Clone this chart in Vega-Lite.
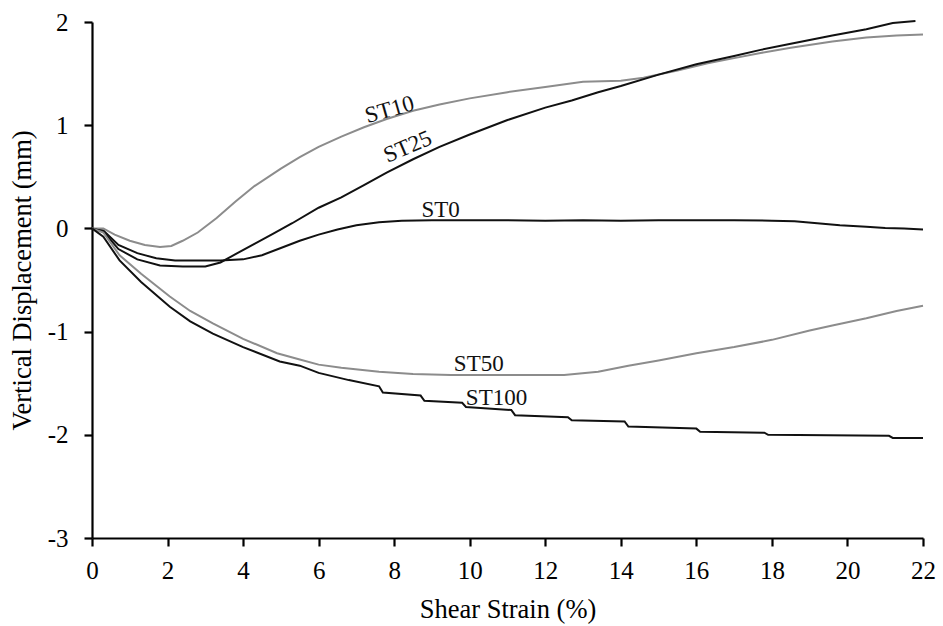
{
  "$schema": "https://vega.github.io/schema/vega-lite/v6.json",
  "autosize": "none",
  "width": 831,
  "height": 516,
  "padding": {"left": 92, "top": 22, "right": 20, "bottom": 88},
  "background": "white",
  "config": {
    "view": {"stroke": null},
    "font": "Liberation Serif",
    "axis": {
      "grid": false,
      "domainColor": "#000",
      "domainWidth": 2.2,
      "tickColor": "#000",
      "tickWidth": 2.2,
      "tickSize": 8
    }
  },
  "datasets": {
    "curves": [
      {"series": "ST0", "strain": 0, "disp": 0},
      {"series": "ST0", "strain": 0.3, "disp": -0.02},
      {"series": "ST0", "strain": 0.7, "disp": -0.16},
      {"series": "ST0", "strain": 1.2, "disp": -0.24},
      {"series": "ST0", "strain": 1.7, "disp": -0.29},
      {"series": "ST0", "strain": 2.2, "disp": -0.31},
      {"series": "ST0", "strain": 2.8, "disp": -0.31},
      {"series": "ST0", "strain": 3.4, "disp": -0.31},
      {"series": "ST0", "strain": 4.0, "disp": -0.3},
      {"series": "ST0", "strain": 4.5, "disp": -0.26},
      {"series": "ST0", "strain": 5.0, "disp": -0.19},
      {"series": "ST0", "strain": 5.5, "disp": -0.12},
      {"series": "ST0", "strain": 6.0, "disp": -0.06},
      {"series": "ST0", "strain": 6.5, "disp": -0.01},
      {"series": "ST0", "strain": 7.0, "disp": 0.03},
      {"series": "ST0", "strain": 7.6, "disp": 0.06},
      {"series": "ST0", "strain": 8.2, "disp": 0.075},
      {"series": "ST0", "strain": 9, "disp": 0.08},
      {"series": "ST0", "strain": 10, "disp": 0.08},
      {"series": "ST0", "strain": 11, "disp": 0.08},
      {"series": "ST0", "strain": 12, "disp": 0.075},
      {"series": "ST0", "strain": 13, "disp": 0.08},
      {"series": "ST0", "strain": 14, "disp": 0.075},
      {"series": "ST0", "strain": 15, "disp": 0.08},
      {"series": "ST0", "strain": 16, "disp": 0.08},
      {"series": "ST0", "strain": 17, "disp": 0.08},
      {"series": "ST0", "strain": 18, "disp": 0.075},
      {"series": "ST0", "strain": 18.6, "disp": 0.07},
      {"series": "ST0", "strain": 19.2, "disp": 0.05},
      {"series": "ST0", "strain": 19.8, "disp": 0.03},
      {"series": "ST0", "strain": 20.5, "disp": 0.015},
      {"series": "ST0", "strain": 21, "disp": 0.005},
      {"series": "ST0", "strain": 21.5, "disp": 0.0},
      {"series": "ST0", "strain": 22, "disp": -0.01},

      {"series": "ST10", "strain": 0, "disp": 0},
      {"series": "ST10", "strain": 0.3, "disp": 0.0},
      {"series": "ST10", "strain": 0.6, "disp": -0.06},
      {"series": "ST10", "strain": 1.0, "disp": -0.12},
      {"series": "ST10", "strain": 1.4, "disp": -0.16},
      {"series": "ST10", "strain": 1.8, "disp": -0.18},
      {"series": "ST10", "strain": 2.1, "disp": -0.17},
      {"series": "ST10", "strain": 2.4, "disp": -0.12},
      {"series": "ST10", "strain": 2.8, "disp": -0.04},
      {"series": "ST10", "strain": 3.3, "disp": 0.1},
      {"series": "ST10", "strain": 3.8, "disp": 0.26},
      {"series": "ST10", "strain": 4.3, "disp": 0.41},
      {"series": "ST10", "strain": 5.0, "disp": 0.58},
      {"series": "ST10", "strain": 5.5, "disp": 0.69},
      {"series": "ST10", "strain": 6.0, "disp": 0.79},
      {"series": "ST10", "strain": 6.6, "disp": 0.89},
      {"series": "ST10", "strain": 7.2, "disp": 0.98},
      {"series": "ST10", "strain": 7.8, "disp": 1.06},
      {"series": "ST10", "strain": 8.5, "disp": 1.14},
      {"series": "ST10", "strain": 9.2, "disp": 1.2},
      {"series": "ST10", "strain": 10, "disp": 1.26},
      {"series": "ST10", "strain": 11, "disp": 1.32},
      {"series": "ST10", "strain": 12, "disp": 1.37},
      {"series": "ST10", "strain": 13, "disp": 1.42},
      {"series": "ST10", "strain": 14, "disp": 1.43},
      {"series": "ST10", "strain": 14.6, "disp": 1.46},
      {"series": "ST10", "strain": 15.5, "disp": 1.53},
      {"series": "ST10", "strain": 16.3, "disp": 1.6},
      {"series": "ST10", "strain": 17, "disp": 1.65},
      {"series": "ST10", "strain": 17.7, "disp": 1.7},
      {"series": "ST10", "strain": 18.5, "disp": 1.75},
      {"series": "ST10", "strain": 19.6, "disp": 1.81},
      {"series": "ST10", "strain": 20.5, "disp": 1.85},
      {"series": "ST10", "strain": 21.3, "disp": 1.87},
      {"series": "ST10", "strain": 22, "disp": 1.88},

      {"series": "ST25", "strain": 0, "disp": 0},
      {"series": "ST25", "strain": 0.3, "disp": -0.03},
      {"series": "ST25", "strain": 0.7, "disp": -0.2},
      {"series": "ST25", "strain": 1.2, "disp": -0.3},
      {"series": "ST25", "strain": 1.8, "disp": -0.36},
      {"series": "ST25", "strain": 2.4, "disp": -0.37},
      {"series": "ST25", "strain": 3.0, "disp": -0.37},
      {"series": "ST25", "strain": 3.4, "disp": -0.33},
      {"series": "ST25", "strain": 3.8, "disp": -0.25},
      {"series": "ST25", "strain": 4.3, "disp": -0.15},
      {"series": "ST25", "strain": 4.8, "disp": -0.05},
      {"series": "ST25", "strain": 5.3, "disp": 0.05},
      {"series": "ST25", "strain": 6.0, "disp": 0.2},
      {"series": "ST25", "strain": 6.6, "disp": 0.3},
      {"series": "ST25", "strain": 7.2, "disp": 0.42},
      {"series": "ST25", "strain": 7.8, "disp": 0.54},
      {"series": "ST25", "strain": 8.5, "disp": 0.67},
      {"series": "ST25", "strain": 9.2, "disp": 0.79},
      {"series": "ST25", "strain": 10, "disp": 0.91},
      {"series": "ST25", "strain": 11, "disp": 1.05},
      {"series": "ST25", "strain": 12, "disp": 1.17},
      {"series": "ST25", "strain": 12.7, "disp": 1.24},
      {"series": "ST25", "strain": 13.4, "disp": 1.32},
      {"series": "ST25", "strain": 14, "disp": 1.38},
      {"series": "ST25", "strain": 15, "disp": 1.49},
      {"series": "ST25", "strain": 16, "disp": 1.59},
      {"series": "ST25", "strain": 17, "disp": 1.67},
      {"series": "ST25", "strain": 17.7, "disp": 1.73},
      {"series": "ST25", "strain": 18.5, "disp": 1.79},
      {"series": "ST25", "strain": 19.6, "disp": 1.87},
      {"series": "ST25", "strain": 20.5, "disp": 1.93},
      {"series": "ST25", "strain": 21.2, "disp": 1.99},
      {"series": "ST25", "strain": 21.8, "disp": 2.01},

      {"series": "ST50", "strain": 0, "disp": 0},
      {"series": "ST50", "strain": 0.3, "disp": -0.04},
      {"series": "ST50", "strain": 0.73, "disp": -0.26},
      {"series": "ST50", "strain": 1.3, "disp": -0.44},
      {"series": "ST50", "strain": 2.06, "disp": -0.66},
      {"series": "ST50", "strain": 2.6, "disp": -0.8},
      {"series": "ST50", "strain": 3.2, "disp": -0.92},
      {"series": "ST50", "strain": 4.0, "disp": -1.07},
      {"series": "ST50", "strain": 4.9, "disp": -1.21},
      {"series": "ST50", "strain": 5.5, "disp": -1.27},
      {"series": "ST50", "strain": 6.0, "disp": -1.32},
      {"series": "ST50", "strain": 6.6, "disp": -1.35},
      {"series": "ST50", "strain": 7.6, "disp": -1.39},
      {"series": "ST50", "strain": 8.5, "disp": -1.41},
      {"series": "ST50", "strain": 9.5, "disp": -1.42},
      {"series": "ST50", "strain": 10.5, "disp": -1.42},
      {"series": "ST50", "strain": 11.5, "disp": -1.42},
      {"series": "ST50", "strain": 12.5, "disp": -1.42},
      {"series": "ST50", "strain": 13.4, "disp": -1.39},
      {"series": "ST50", "strain": 14.2, "disp": -1.33},
      {"series": "ST50", "strain": 15.0, "disp": -1.28},
      {"series": "ST50", "strain": 16.0, "disp": -1.21},
      {"series": "ST50", "strain": 17, "disp": -1.15},
      {"series": "ST50", "strain": 18, "disp": -1.08},
      {"series": "ST50", "strain": 19, "disp": -0.99},
      {"series": "ST50", "strain": 19.6, "disp": -0.94},
      {"series": "ST50", "strain": 20.5, "disp": -0.87},
      {"series": "ST50", "strain": 21.3, "disp": -0.8},
      {"series": "ST50", "strain": 22, "disp": -0.75},

      {"series": "ST100", "strain": 0, "disp": 0},
      {"series": "ST100", "strain": 0.3, "disp": -0.08},
      {"series": "ST100", "strain": 0.73, "disp": -0.31},
      {"series": "ST100", "strain": 1.3, "disp": -0.52},
      {"series": "ST100", "strain": 2.06, "disp": -0.76},
      {"series": "ST100", "strain": 2.6, "disp": -0.9},
      {"series": "ST100", "strain": 3.2, "disp": -1.02},
      {"series": "ST100", "strain": 4.0, "disp": -1.15},
      {"series": "ST100", "strain": 4.97, "disp": -1.29},
      {"series": "ST100", "strain": 5.5, "disp": -1.33},
      {"series": "ST100", "strain": 6.0, "disp": -1.4},
      {"series": "ST100", "strain": 6.8, "disp": -1.47},
      {"series": "ST100", "strain": 7.6, "disp": -1.53},
      {"series": "ST100", "strain": 7.7, "disp": -1.59},
      {"series": "ST100", "strain": 8.7, "disp": -1.62},
      {"series": "ST100", "strain": 8.8, "disp": -1.67},
      {"series": "ST100", "strain": 9.8, "disp": -1.69},
      {"series": "ST100", "strain": 9.9, "disp": -1.73},
      {"series": "ST100", "strain": 11.1, "disp": -1.76},
      {"series": "ST100", "strain": 11.2, "disp": -1.81},
      {"series": "ST100", "strain": 12.6, "disp": -1.83},
      {"series": "ST100", "strain": 12.7, "disp": -1.86},
      {"series": "ST100", "strain": 14.1, "disp": -1.87},
      {"series": "ST100", "strain": 14.2, "disp": -1.92},
      {"series": "ST100", "strain": 16.0, "disp": -1.94},
      {"series": "ST100", "strain": 16.1, "disp": -1.97},
      {"series": "ST100", "strain": 17.8, "disp": -1.98},
      {"series": "ST100", "strain": 17.9, "disp": -2.0},
      {"series": "ST100", "strain": 21.1, "disp": -2.01},
      {"series": "ST100", "strain": 21.2, "disp": -2.03},
      {"series": "ST100", "strain": 22, "disp": -2.03}
    ],
    "flatLabels": [
      {"label": "ST0", "strain": 9.23, "disp": 0.18},
      {"label": "ST50", "strain": 10.24, "disp": -1.31},
      {"label": "ST100", "strain": 10.71, "disp": -1.64}
    ],
    "label10": [{"label": "ST10", "strain": 7.88, "disp": 1.15}],
    "label25": [{"label": "ST25", "strain": 8.36, "disp": 0.79}]
  },
  "layer": [
    {
      "data": {"name": "curves"},
      "mark": {"type": "line", "strokeWidth": 2, "interpolate": "linear"},
      "encoding": {
        "x": {
          "field": "strain", "type": "quantitative",
          "scale": {"domain": [0, 22], "nice": false, "zero": false},
          "axis": {
            "title": "Shear Strain (%)",
            "values": [0, 2, 4, 6, 8, 10, 12, 14, 16, 18, 20, 22],
            "labelExpr": "'' + datum.value",
            "labelFont": "Liberation Serif",
            "labelFontSize": 25,
            "labelColor": "#000",
            "labelPadding": 12,
            "labelFlush": false,
            "titleFont": "Liberation Serif",
            "titleFontSize": 26.5,
            "titleFontWeight": "normal",
            "titleColor": "#000",
            "titleBaseline": "alphabetic",
            "titleY": 79
          }
        },
        "y": {
          "field": "disp", "type": "quantitative",
          "scale": {"domain": [-3, 2], "nice": false, "zero": false},
          "axis": {
            "title": "Vertical Displacement (mm)",
            "values": [-3, -2, -1, 0, 1, 2],
            "labelExpr": "'' + datum.value",
            "labelFont": "Liberation Serif",
            "labelFontSize": 25,
            "labelColor": "#000",
            "labelPadding": 16,
            "labelFlush": false,
            "titleFont": "Liberation Serif",
            "titleFontSize": 26.5,
            "titleFontWeight": "normal",
            "titleColor": "#000",
            "titleX": -70,
            "titleY": 258,
            "titleAngle": 270,
            "titleAlign": "center",
            "titleBaseline": "middle"
          }
        },
        "color": {
          "field": "series", "type": "nominal",
          "scale": {
            "domain": ["ST0", "ST10", "ST25", "ST50", "ST100"],
            "range": ["#111111", "#8c8c8c", "#111111", "#8c8c8c", "#111111"]
          },
          "legend": null
        },
        "detail": {"field": "series"}
      }
    },
    {
      "data": {"name": "flatLabels"},
      "mark": {"type": "text", "font": "Liberation Serif", "fontSize": 23, "color": "#111", "align": "center", "baseline": "middle"},
      "encoding": {
        "x": {"field": "strain", "type": "quantitative"},
        "y": {"field": "disp", "type": "quantitative"},
        "text": {"field": "label"}
      }
    },
    {
      "data": {"name": "label10"},
      "mark": {"type": "text", "font": "Liberation Serif", "fontSize": 23, "color": "#111", "align": "center", "baseline": "middle", "angle": 344},
      "encoding": {
        "x": {"field": "strain", "type": "quantitative"},
        "y": {"field": "disp", "type": "quantitative"},
        "text": {"field": "label"}
      }
    },
    {
      "data": {"name": "label25"},
      "mark": {"type": "text", "font": "Liberation Serif", "fontSize": 23, "color": "#111", "align": "center", "baseline": "middle", "angle": 337},
      "encoding": {
        "x": {"field": "strain", "type": "quantitative"},
        "y": {"field": "disp", "type": "quantitative"},
        "text": {"field": "label"}
      }
    }
  ]
}
